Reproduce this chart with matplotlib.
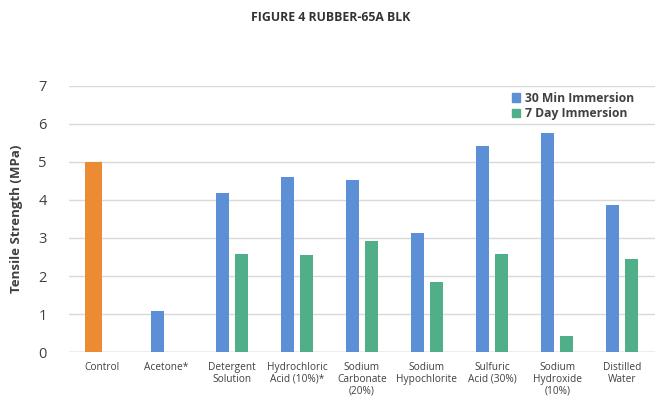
import matplotlib.pyplot as plt
from matplotlib.patches import Patch

plt.rcParams['font.family'] = ['Open Sans', 'DejaVu Sans']

categories = ['Control', 'Acetone*', 'Detergent\nSolution', 'Hydrochloric\nAcid (10%)*',
              'Sodium\nCarbonate\n(20%)', 'Sodium\nHypochlorite', 'Sulfuric\nAcid (30%)',
              'Sodium\nHydroxide\n(10%)', 'Distilled\nWater']
control = [5.0, None, None, None, None, None, None, None, None]
thirty_min = [None, 1.07, 4.18, 4.6, 4.53, 3.12, 5.42, 5.77, 3.87]
seven_day = [None, None, 2.58, 2.55, 2.92, 1.85, 2.57, 0.42, 2.44]

c_orange = '#EC8B33'
c_blue = '#5D8FD6'
c_green = '#50AE88'

fig = plt.figure(figsize=(6.56, 4.01), dpi=100)
ax = fig.add_axes([69 / 656, 0.122, 0.893, 0.664])

w = 0.204
off = 0.145
for i in range(len(categories)):
    if control[i] is not None:
        ax.bar(i - 0.123, control[i], width=0.256, color=c_orange, zorder=3)
    if thirty_min[i] is not None:
        ax.bar(i - off, thirty_min[i], width=w, color=c_blue, zorder=3)
    if seven_day[i] is not None:
        ax.bar(i + off, seven_day[i], width=w, color=c_green, zorder=3)

ax.set_xlim(-0.5, 8.5)
ax.set_ylim(0, 7)
ax.set_yticks(range(0, 8))
ax.yaxis.grid(True, color='#d9d9d9', linewidth=1, zorder=0)
ax.axhline(0, color='#bfbfbf', linewidth=1, zorder=1)
for s in ax.spines.values():
    s.set_visible(False)
ax.tick_params(axis='y', length=0, labelsize=10.5, colors='#404040', pad=16)
ax.tick_params(axis='x', length=0, labelsize=7.3, colors='#404040', pad=7)
ax.set_xticks(range(len(categories)))
ax.set_xticklabels(categories, va='top', linespacing=1.1)
ax.set_ylabel('Tensile Strength (MPa)', fontsize=9.5, fontweight='bold', color='#404040', labelpad=11)

handles = [Patch(color=c_blue, label='30 Min Immersion'),
           Patch(color=c_green, label='7 Day Immersion')]
leg = ax.legend(handles=handles, loc='upper right', bbox_to_anchor=(0.975, 1.0), frameon=False,
                prop={'size': 8.7, 'weight': 'bold'}, handlelength=0.7, handleheight=0.7,
                handletextpad=0.4, labelspacing=0.2, borderaxespad=0.1)
for t in leg.get_texts():
    t.set_color('#404040')

fig.text(331 / 656, 0.957, 'FIGURE 4 RUBBER-65A BLK', ha='center', va='center',
         fontsize=8.8, fontweight='bold', color='#333333')

fig.savefig('out.png', dpi=100)
